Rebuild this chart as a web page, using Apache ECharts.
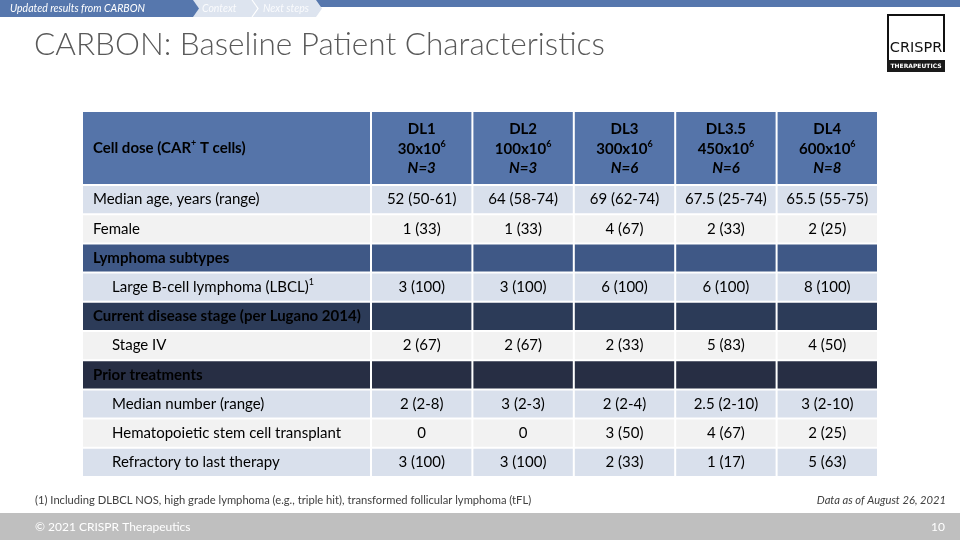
<!DOCTYPE html>
<html>
<head>
<meta charset="utf-8">
<script src="https://cdn.jsdelivr.net/npm/echarts@6/dist/echarts.min.js"></script>
<style>html,body{margin:0;padding:0;background:#fff}#c{width:960px;height:540px}</style>
</head>
<body>
<div id="c"></div>
<script>
// ---------- data ----------
const columns = ['DL1', 'DL2', 'DL3', 'DL3.5', 'DL4'];
const doseMillions = [30, 100, 300, 450, 600];
const patients = [3, 3, 6, 6, 8];
const headerLabel = ['Cell dose (CAR', '+', ' T cells)'];
const rowLabels = [
  'Median age, years (range)',
  'Female',
  'Lymphoma subtypes',
  'Large B-cell lymphoma (LBCL)',
  'Current disease stage (per Lugano 2014)',
  'Stage IV',
  'Prior treatments',
  'Median number (range)',
  'Hematopoietic stem cell transplant',
  'Refractory to last therapy'
];
const rowNotes = ['', '', '', '1', '', '', '', '', '', ''];
const sectionRows = [false, false, true, false, true, false, true, false, false, false];
const subRows = [false, false, false, true, false, true, false, true, true, true];
const valuesDL1 = ['52 (50-61)', '1 (33)', '', '3 (100)', '', '2 (67)', '', '2 (2-8)', '0', '3 (100)'];
const valuesDL2 = ['64 (58-74)', '1 (33)', '', '3 (100)', '', '2 (67)', '', '3 (2-3)', '0', '3 (100)'];
const valuesDL3 = ['69 (62-74)', '4 (67)', '', '6 (100)', '', '2 (33)', '', '2 (2-4)', '3 (50)', '2 (33)'];
const valuesDL35 = ['67.5 (25-74)', '2 (33)', '', '6 (100)', '', '5 (83)', '', '2.5 (2-10)', '4 (67)', '1 (17)'];
const valuesDL4 = ['65.5 (55-75)', '2 (25)', '', '8 (100)', '', '4 (50)', '', '3 (2-10)', '2 (25)', '5 (63)'];
const footnote = '(1) Including DLBCL NOS, high grade lymphoma (e.g., triple hit), transformed follicular lymphoma (tFL)';
const dataDate = 'Data as of August 26, 2021';

// ---------- styles ----------
const FONT = 'Lato, "Open Sans", sans-serif';
const TEXT = '#404040';
const HEADER_FILL = '#5574a9';
const rowFills = ['#d9e0ec', '#f2f2f2', '#3f5886', '#d9e0ec', '#2c3b58', '#f2f2f2', '#272e44', '#d9e0ec', '#f2f2f2', '#d9e0ec'];
const valueCols = [valuesDL1, valuesDL2, valuesDL3, valuesDL35, valuesDL4];

function cellBox(api) {
  const c = api.coord([api.value(0), api.value(1)]);
  const s = api.size([1, 1]);
  return { cx: c[0], cy: c[1], x: c[0] - s[0] / 2 + 1, y: c[1] - s[1] / 2 + 1, w: s[0] - 2, h: s[1] - 2 };
}

const rich = {
  b: { fontFamily: FONT, fontWeight: 'bold', fontSize: 15, color: '#fff', lineHeight: 19.5 },
  bi: { fontFamily: FONT, fontWeight: 'bold', fontStyle: 'italic', fontSize: 15, color: '#fff', lineHeight: 19.5 },
  bsup: { fontFamily: FONT, fontWeight: 'bold', fontSize: 9, color: '#fff', lineHeight: 12, verticalAlign: 'top' },
  n: { fontFamily: FONT, fontSize: 15, color: TEXT, lineHeight: 19 },
  nsup: { fontFamily: FONT, fontSize: 9, color: TEXT, lineHeight: 12, verticalAlign: 'top' }
};

function renderHeaderLabel(params, api) {
  const b = cellBox(api);
  return { type: 'group', children: [
    { type: 'rect', shape: { x: b.x, y: b.y, width: b.w, height: b.h }, style: { fill: HEADER_FILL } },
    { type: 'text', x: b.x + 10, y: b.cy, style: {
      text: '{b|' + headerLabel[0] + '}{bsup|' + headerLabel[1] + '}{b|' + headerLabel[2] + '}',
      rich: rich, verticalAlign: 'middle', align: 'left' } }
  ] };
}
function renderHeaderDose(params, api) {
  const b = cellBox(api);
  const i = params.dataIndex;
  return { type: 'group', children: [
    { type: 'rect', shape: { x: b.x, y: b.y, width: b.w, height: b.h }, style: { fill: HEADER_FILL } },
    { type: 'text', x: b.cx, y: b.cy + 1, style: {
      text: '{b|' + columns[i] + '}\n{b|' + doseMillions[i] + 'x10}{bsup|6}\n{bi|N=' + patients[i] + '}',
      rich: rich, verticalAlign: 'middle', align: 'center' } }
  ] };
}
function renderRowLabel(params, api) {
  const b = cellBox(api);
  const j = params.dataIndex;
  const sec = sectionRows[j];
  let txt;
  if (sec) txt = '{b|' + rowLabels[j] + '}';
  else txt = '{n|' + rowLabels[j] + '}' + (rowNotes[j] ? '{nsup|' + rowNotes[j] + '}' : '');
  return { type: 'group', children: [
    { type: 'rect', shape: { x: b.x, y: b.y, width: b.w, height: b.h }, style: { fill: rowFills[j] } },
    { type: 'text', x: b.x + (subRows[j] ? 29 : 10), y: b.cy, style: {
      text: txt, rich: rich, verticalAlign: 'middle', align: 'left' } }
  ] };
}
const bodyData = [];
const bodyText = [];
columns.forEach((c, i) => rowLabels.forEach((r, j) => { bodyData.push([i, j]); bodyText.push(valueCols[i][j]); }));
function renderValue(params, api) {
  const b = cellBox(api);
  const j = api.value(1);
  const t = bodyText[params.dataIndex];
  return { type: 'group', children: [
    { type: 'rect', shape: { x: b.x, y: b.y, width: b.w, height: b.h }, style: { fill: rowFills[j] } },
    { type: 'text', x: b.cx, y: b.cy, style: {
      text: t ? '{n|' + t + '}' : '', rich: rich, verticalAlign: 'middle', align: 'center' } }
  ] };
}

const hiddenCat = (data, grid, inverse) => ({ type: 'category', data: data, gridIndex: grid, show: false, inverse: !!inverse, boundaryGap: true });

const chart = echarts.init(document.getElementById('c'), null, { renderer: 'canvas' });
chart.setOption({
  animation: false,
  backgroundColor: '#fff',
  grid: [
    { left: 82, top: 111, width: 289, height: 74 },
    { left: 371, top: 111, width: 507, height: 74 },
    { left: 82, top: 185, width: 289, height: 292 },
    { left: 371, top: 185, width: 507, height: 292 }
  ],
  xAxis: [
    hiddenCat(['label'], 0), hiddenCat(columns, 1), hiddenCat(['label'], 2), hiddenCat(columns, 3)
  ],
  yAxis: [
    hiddenCat(['header'], 0), hiddenCat(['header'], 1), hiddenCat(rowLabels, 2, true), hiddenCat(rowLabels, 3, true)
  ],
  series: [
    { type: 'custom', xAxisIndex: 0, yAxisIndex: 0, renderItem: renderHeaderLabel, data: [[0, 0]], silent: true },
    { type: 'custom', xAxisIndex: 1, yAxisIndex: 1, renderItem: renderHeaderDose, data: columns.map((c, i) => [i, 0]), silent: true },
    { type: 'custom', xAxisIndex: 2, yAxisIndex: 2, renderItem: renderRowLabel, data: rowLabels.map((r, j) => [0, j]), silent: true },
    { type: 'custom', xAxisIndex: 3, yAxisIndex: 3, renderItem: renderValue, data: bodyData, silent: true }
  ],
  graphic: { elements: [
    // top band and breadcrumb chevrons
    { type: 'rect', shape: { x: 0, y: 0, width: 960, height: 7 }, style: { fill: '#5677ad' }, silent: true },
    { type: 'polygon', shape: { points: [[252, 0], [316, 0], [322, 8.5], [316, 17], [252, 17], [258, 8.5]] }, style: { fill: '#dde4ef' }, silent: true },
    { type: 'polygon', shape: { points: [[190, 0], [252, 0], [258, 8.5], [252, 17], [190, 17]] }, style: { fill: '#dde4ef' }, silent: true },
    { type: 'polyline', shape: { points: [[252, 0], [258, 8.5], [252, 17]] }, style: { stroke: '#fff', lineWidth: 1.2, fill: null }, silent: true },
    { type: 'polygon', shape: { points: [[0, 0], [193, 0], [199, 8.5], [193, 17], [0, 17]] }, style: { fill: '#5677ad' }, silent: true },
    { type: 'text', x: 10, y: 9, style: { text: 'Updated results from CARBON', font: 'italic 10.5px ' + FONT, fill: '#fff', verticalAlign: 'middle' }, silent: true },
    { type: 'text', x: 202, y: 9, style: { text: 'Context', font: 'italic 10.5px ' + FONT, fill: '#fafbfd', verticalAlign: 'middle' }, silent: true },
    { type: 'text', x: 263, y: 9, style: { text: 'Next steps', font: 'italic 10.5px ' + FONT, fill: '#fafbfd', verticalAlign: 'middle' }, silent: true },
    // title
    { type: 'text', x: 34, y: 45, style: { text: 'CARBON: Baseline Patient Characteristics', font: '300 31.5px ' + FONT, fill: '#595959', verticalAlign: 'middle' }, silent: true },
    // logo
    { type: 'polyline', shape: { points: [[888, 72], [888, 15], [944, 15], [944, 52]] }, style: { stroke: '#111', lineWidth: 2, fill: null }, silent: true },
    { type: 'rect', shape: { x: 887, y: 60, width: 58, height: 12 }, style: { fill: '#1a1a1a' }, silent: true },
    { type: 'text', x: 916, y: 48, style: { text: 'CRISPR', font: '500 14.5px "DejaVu Sans", sans-serif', fill: '#111', align: 'center', verticalAlign: 'middle' }, silent: true },
    { type: 'text', x: 916, y: 66.5, style: { text: 'THERAPEUTICS', font: 'bold 6px "DejaVu Sans", sans-serif', fill: '#fff', align: 'center', verticalAlign: 'middle' }, silent: true },
    // footnotes
    { type: 'text', x: 35, y: 500, style: { text: footnote, font: '11.2px ' + FONT, fill: TEXT, verticalAlign: 'middle' }, silent: true },
    { type: 'text', x: 946, y: 500, style: { text: dataDate, font: 'italic 11.2px ' + FONT, fill: TEXT, align: 'right', verticalAlign: 'middle' }, silent: true },
    // bottom bar
    { type: 'rect', shape: { x: 0, y: 513, width: 960, height: 27 }, style: { fill: '#bfbfbf' }, silent: true },
    { type: 'text', x: 35, y: 527, style: { text: '\u00A9 2021 CRISPR Therapeutics', font: '12px ' + FONT, fill: '#fff', verticalAlign: 'middle' }, silent: true },
    { type: 'text', x: 945, y: 527, style: { text: '10', font: '12px ' + FONT, fill: '#fff', align: 'right', verticalAlign: 'middle' }, silent: true }
  ] }
});
</script>
</body>
</html>
